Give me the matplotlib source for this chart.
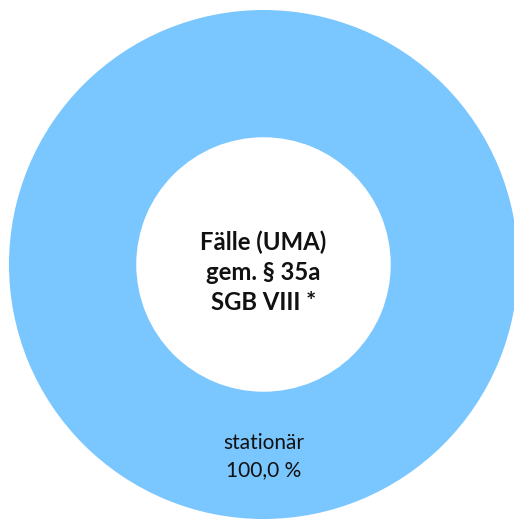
import matplotlib
matplotlib.use('Agg')
import matplotlib.pyplot as plt

# Fälle (UMA) nach Hilfeart
categories = ['stationär']
values = [100.0]
center_text = 'Fälle (UMA)\ngem. § 35a\nSGB VIII *'

color = '#7AC6FE'

fig = plt.figure(figsize=(5.14, 5.19), dpi=100)
ax = fig.add_axes([9/514, 0/519, 509/514, 509/519])

def fmt(p, names=iter(categories)):
    return f'{next(names)}\n{p:.1f} %'.replace('.', ',')

wedges, texts, autotexts = ax.pie(values, colors=[color], startangle=90, counterclock=False,
                                  radius=1.0, autopct=fmt, pctdistance=0.755,
                                  wedgeprops=dict(width=0.5, edgecolor='none'))
for t in autotexts:
    t.set_fontfamily('Lato')
    t.set_fontsize(15)
    t.set_color('#111111')
    t.set_linespacing(1.45)

ax.text(0, -0.03, center_text, ha='center', va='center', fontsize=17.2, fontweight='bold',
        family='Lato', linespacing=1.38, color='#111111')

ax.set_xlim(-1, 1)
ax.set_ylim(-1, 1)
ax.set_aspect('equal')
ax.axis('off')

fig.savefig('out.png', dpi=100)
